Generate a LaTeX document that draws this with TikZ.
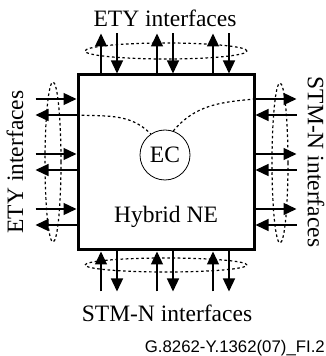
\documentclass[tikz,border=0pt]{standalone}
\usepackage{fontspec}
\setmainfont{Liberation Serif}
\setsansfont{Liberation Sans}
\usetikzlibrary{arrows.meta, calc, positioning}

\begin{document}
\begin{tikzpicture}[
    x=1pt, y=1pt,
    >={Triangle[length=13pt, width=12pt]},
    every node/.style={font=\fontsize{23.5}{28}\selectfont},
    sig/.style={line width=1.3pt},
    grp/.style={line width=1.2pt, dash pattern=on 2.6pt off 2.6pt},
]
\useasboundingbox (0,0) rectangle (326,356);
% the network element and its equipment clock
\node[draw, line width=3pt, minimum width=176pt, minimum height=175pt, inner sep=0pt] (ne) at (166,193.5) {};
\node[draw, circle, line width=0.8pt, minimum size=50pt, inner sep=0pt] (ec) at (165,201) {EC};
\node (hyb) at (166,139) {Hybrid NE};
% grouping ellipses round each set of interfaces
\draw[grp] (166,305) ellipse (81 and 8);
\draw[grp] (166,91) ellipse (81 and 7);
\draw[grp] (53,194) ellipse (8 and 80);
\draw[grp] (280,193) ellipse (8 and 80);
% top and bottom interfaces
\foreach \k in {0,1,2} {
    \coordinate (tu\k) at ($(ne.north)+({-65+56*\k},40)$);
    \coordinate (td\k) at ($(ne.north)+({-49+56*\k},40)$);
    \coordinate (bu\k) at ($(ne.south)+({-65+56*\k},-40)$);
    \coordinate (bd\k) at ($(ne.south)+({-49+56*\k},-40)$);
    \draw[sig,->] (ne.north -| tu\k) -- (tu\k);
    \draw[sig,->] (td\k) -- (ne.north -| td\k);
    \draw[sig,->] (bu\k) -- (ne.south -| bu\k);
    \draw[sig,->] (ne.south -| bd\k) -- (bd\k);
}
% left and right interfaces
\foreach \k in {0,1,2} {
    \coordinate (li\k) at ($(ne.west)+(-41,{63.5-55*\k})$);
    \coordinate (lo\k) at ($(ne.west)+(-41,{47.5-55*\k})$);
    \coordinate (ro\k) at ($(ne.east)+(41,{63.5-55*\k})$);
    \coordinate (ri\k) at ($(ne.east)+(41,{47.5-55*\k})$);
    \draw[sig,->] (li\k) -- (ne.west |- li\k);
    \draw[sig,->] (ne.west |- lo\k) -- (lo\k);
    \draw[sig,->] (ne.east |- ro\k) -- (ro\k);
    \draw[sig,->] (ri\k) -- (ne.east |- ri\k);
}
% clock links
\draw[grp] (ne.west |- lo0) to[out=-3, in=135] (ec.124);
\draw[grp] (ec.71) to[out=50, in=185] (ne.east |- ro0);
% labels
\node (top) at (165,338) {ETY interfaces};
\node (bot) at (167,43) {STM-N interfaces};
\node[rotate=90] (lft) at (15,194) {ETY interfaces};
\node[rotate=-90] (rgt) at (316,194) {STM-N interfaces};
\node[anchor=base east, inner sep=0pt, font=\sffamily\fontsize{16.8}{20}\selectfont] (ref) at (325,3) {G.8262-Y.1362(07)\_FI.2};
\end{tikzpicture}
\end{document}
